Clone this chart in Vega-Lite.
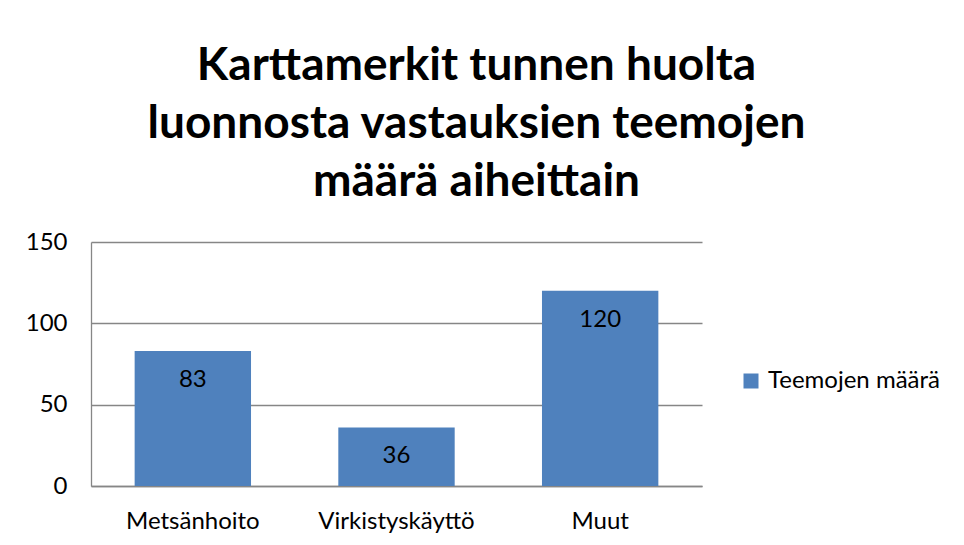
{
  "$schema": "https://vega.github.io/schema/vega-lite/v6.json",
  "width": 611,
  "height": 244,
  "autosize": {"type": "none"},
  "padding": {"left": 91, "top": 242, "right": 262, "bottom": 59},
  "background": "white",
  "config": {
    "font": "Lato",
    "view": {"stroke": null}
  },
  "title": {
    "text": ["Karttamerkit tunnen huolta", "luonnosta  vastauksien teemojen", "määrä aiheittain"],
    "font": "Lato",
    "fontSize": 46,
    "fontWeight": "bold",
    "color": "black",
    "anchor": "middle",
    "dx": 80,
    "lineHeight": 58,
    "offset": 24
  },
  "data": {
    "values": [
      {"aihe": "Metsänhoito", "maara": 83, "sarja": "Teemojen määrä"},
      {"aihe": "Virkistyskäyttö", "maara": 36, "sarja": "Teemojen määrä"},
      {"aihe": "Muut", "maara": 120, "sarja": "Teemojen määrä"}
    ]
  },
  "encoding": {
    "x": {
      "field": "aihe",
      "type": "nominal",
      "sort": null,
      "title": null,
      "scale": {"paddingInner": 0.4286, "paddingOuter": 0.2143},
      "axis": {
        "labelAngle": 0,
        "labelFontSize": 24,
        "labelColor": "black",
        "labelPadding": 23,
        "ticks": false,
        "domainColor": "#868686",
        "domainWidth": 1.3
      }
    },
    "y": {
      "field": "maara",
      "type": "quantitative",
      "title": null,
      "scale": {"domain": [0, 150]},
      "axis": {
        "values": [0, 50, 100, 150],
        "labelFontSize": 24,
        "labelColor": "black",
        "labelPadding": 24,
        "ticks": false,
        "domainColor": "#868686",
        "domainWidth": 1.3,
        "gridColor": "#868686",
        "gridWidth": 1.3
      }
    }
  },
  "layer": [
    {
      "mark": {"type": "bar", "color": "#4F81BD"},
      "encoding": {
        "color": {
          "field": "sarja",
          "type": "nominal",
          "scale": {"range": ["#4F81BD"]},
          "legend": {
            "title": null,
            "orient": "none",
            "legendX": 648,
            "legendY": 127,
            "symbolType": "square",
            "symbolSize": 225,
            "symbolStrokeWidth": 0,
            "labelFontSize": 24,
            "labelLimit": 300,
            "labelColor": "black",
            "labelOffset": 5
          }
        }
      }
    },
    {
      "mark": {"type": "text", "baseline": "top", "dy": 17, "fontSize": 24, "color": "black"},
      "encoding": {
        "text": {"field": "maara", "type": "quantitative"}
      }
    }
  ]
}
